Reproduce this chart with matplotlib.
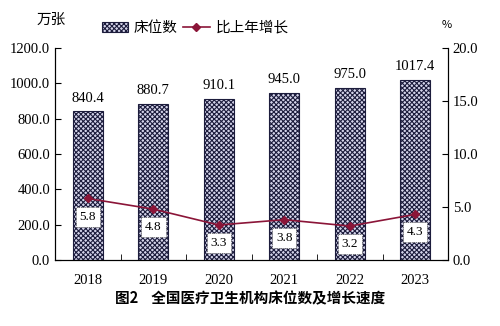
import numpy as np
import matplotlib.pyplot as plt

plt.rcParams['font.family'] = ['Liberation Serif', 'Noto Sans CJK SC']
plt.rcParams['hatch.linewidth'] = 0.8
plt.rcParams['hatch.color'] = '#22226e'

years = ['2018', '2019', '2020', '2021', '2022', '2023']
beds = [840.4, 880.7, 910.1, 945.0, 975.0, 1017.4]
growth = [5.8, 4.8, 3.3, 3.8, 3.2, 4.3]

cjk = ['Noto Sans CJK SC', 'DejaVu Sans']
line_col = '#8b1538'

fig = plt.figure(figsize=(5, 3.26), dpi=100)
ax = fig.add_axes([0.11, 0.2025, 0.786, 0.6505])
x = np.arange(len(years))

# bed counts, checkered bars on the left axis
bars = ax.bar(x, beds, width=0.46, color='#d4d4ea', edgecolor='#1c1c3c',
              linewidth=0.8, hatch='xxxxxxx', label='床位数')
for xi, v in zip(x, beds):
    ax.annotate(f'{v:.1f}', (xi, v), xytext=(0, 5), textcoords='offset points',
                ha='center', va='bottom', fontsize=10.5)

ax.set_xlim(-0.5, len(years) - 0.5)
ax.set_ylim(0, 1200)
ax.set_yticks(np.arange(0, 1201, 200))
ax.set_yticklabels([f'{t:.1f}' for t in np.arange(0, 1201, 200)], fontsize=10.5)
ax.set_xticks(x)
ax.set_xticklabels(years, fontsize=10.5)
ax.set_xticks(np.arange(0.5, len(years) - 1, 1), minor=True)
ax.tick_params(axis='x', which='major', length=0, pad=10)
ax.tick_params(axis='x', which='minor', direction='in', length=4)
ax.tick_params(axis='y', direction='in', length=4)
ax.spines['top'].set_visible(False)

# growth rate on the right axis
ax2 = ax.twinx()
ax2.plot(x, growth, color=line_col, linewidth=1.2, marker='D', markersize=4,
         label='比上年增长')
for xi, v in zip(x, growth):
    ax2.annotate(f'{v:.1f}', (xi, v), xytext=(0, -13), textcoords='offset points',
                 ha='center', va='center', fontsize=9.5,
                 bbox=dict(boxstyle='square,pad=0.3', fc='white', ec='#555555',
                           ls=(0, (1, 1.5)), lw=0.6))
ax2.set_ylim(0, 20)
ax2.set_yticks(np.arange(0, 20.1, 5))
ax2.set_yticklabels([f'{t:.1f}' for t in np.arange(0, 20.1, 5)], fontsize=10.5)
ax2.tick_params(axis='y', direction='in', length=4)
ax2.spines['top'].set_visible(False)

fig.text(0.102, 0.94, '万张', ha='center', va='center', fontsize=10.5, family=cjk)
fig.text(0.894, 0.923, '%', ha='center', va='center', fontsize=8, family=cjk)

h1, l1 = ax.get_legend_handles_labels()
h2, l2 = ax2.get_legend_handles_labels()
fig.legend(h1 + h2, l1 + l2, loc='center', bbox_to_anchor=(0.39, 0.915), ncol=2,
           frameon=False, prop={'family': cjk, 'size': 10.5}, handlelength=1.8,
           columnspacing=0.4, handletextpad=0.4)

fig.text(0.5, 0.085, '图2    全国医疗卫生机构床位数及增长速度', ha='center', va='center',
         fontsize=10.5, fontweight='bold', family=cjk)

fig.savefig('out.png', dpi=100)
